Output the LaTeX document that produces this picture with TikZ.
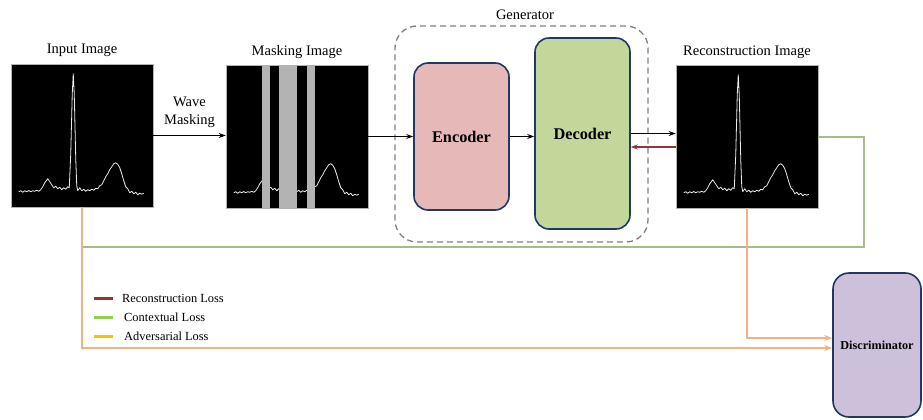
\documentclass[tikz,border=0pt]{standalone}
\usepackage{fontspec}
\setmainfont{Liberation Serif}
\usetikzlibrary{arrows.meta,calc}
\definecolor{frame}{HTML}{1F3864}
\definecolor{encfill}{HTML}{E6B8B7}
\definecolor{decfill}{HTML}{C4D79B}
\definecolor{disfill}{HTML}{CCC0DA}
\definecolor{recred}{HTML}{943634}
\definecolor{ctxgreen}{HTML}{A9BA8C}
\definecolor{legreen}{HTML}{92D050}
\definecolor{advorange}{HTML}{F4B183}
\definecolor{legorange}{HTML}{FFC000}
\definecolor{maskgray}{HTML}{B3B3B3}
\definecolor{dashgray}{HTML}{7F7F7F}
\tikzset{
  imgbox/.style={fill=black, draw=gray!60, line width=0.5pt, minimum width=142pt, minimum height=143pt, inner sep=0pt},
  netbox/.style={draw=frame, line width=1.6pt, rounded corners=14pt, inner sep=0pt},
  lbl/.style={font=\fontsize{14.5}{16}\selectfont, inner sep=0pt},
  leglbl/.style={font=\fontsize{12.4}{14}\selectfont, inner sep=0pt, anchor=west},
  blkarrow/.style={draw=black, line width=1pt, -{Stealth[length=7pt,width=5pt]}},
  redarrow/.style={draw=recred, line width=1.4pt, -{Stealth[length=7pt,width=5pt]}},
  ctxline/.style={draw=ctxgreen, line width=2pt},
  advarrow/.style={draw=advorange, line width=1.4pt, -{Stealth[length=8pt,width=6pt]}},
  legline/.style={line width=3pt},
  wave/.pic={
    \draw[gray!15, line width=0.8pt, line join=round] plot coordinates {
(8,128) (10,127) (12,128.5) (14,127) (16,128) (18,126.8) (20,128) (22,127) (24,127.5) (26,126.5) (28,127.5) (30,126) (32,123) (34,119) (37,115) (39,118) (41,121) (43,124) (45,122.5) (47,125) (49,123.5) (51,126) (53,124) (55,125.5) (57,123) (58.5,124) (60,90) (61.5,30) (62.5,10) (63.5,30) (65,95) (66,122) (67,127) (69,124) (71,127) (73,125.5) (75,127.5) (77,126) (79,127) (81,125.5) (83,126.5) (85,124.5) (87,125) (89,122) (91,121) (93,117) (95,113) (97,110) (99,106) (101,103) (103,100) (105,99) (107,100.5) (109,104) (111,110) (113,117) (115,123) (117,125) (119,129) (121,127.5) (123,130) (125,128.5) (127,131) (129,129.5) (131,130.5) (133,129.5)};
  }
}
\begin{document}
\begin{tikzpicture}[x=1pt,y=-1pt]
\useasboundingbox (0,0) rectangle (923,420);

% images
\node[imgbox] (inp) at (82,135.5) {};
\pic at (inp.north west) {wave};
\node[lbl] (inplbl) at (82,50) {Input Image};

\node[imgbox] (mask) at (297,136.5) {};
\pic at (mask.north west) {wave};
\fill[maskgray] ([xshift=36pt]mask.north west) rectangle ([xshift=44pt]mask.south west);
\fill[maskgray] ([xshift=53pt]mask.north west) rectangle ([xshift=71pt]mask.south west);
\fill[maskgray] ([xshift=81pt]mask.north west) rectangle ([xshift=89pt]mask.south west);
\node[lbl] (masklbl) at (297,52) {Masking Image};

\node[imgbox] (rec) at (747,136.5) {};
\pic at (rec.north west) {wave};
\node[lbl] (reclbl) at (747,52) {Reconstruction Image};

% generator
\node[draw=dashgray, line width=1.3pt, dash pattern=on 6pt off 4pt, rounded corners=22pt, minimum width=253pt, minimum height=216pt, inner sep=0pt] (gen) at (521.5,134) {};
\node[lbl] (genlbl) at (525,15) {Generator};

\node[netbox, fill=encfill, minimum width=95pt, minimum height=147pt, font=\fontsize{16.3}{18}\selectfont\bfseries] (enc) at (461.5,136.5) {Encoder};
\node[netbox, fill=decfill, minimum width=95pt, minimum height=191pt, font=\fontsize{16.3}{18}\selectfont\bfseries] (dec) at (582.5,133.5) {Decoder};
\node[netbox, fill=disfill, minimum width=88pt, minimum height=144pt, rounded corners=16pt, font=\fontsize{12.2}{14}\selectfont\bfseries] (dis) at (877,345) {Discriminator};

% main flow
\draw[blkarrow] (inp.east) -- (inp.east -| mask.west) node[midway, above=7pt, lbl, align=center] (wmlbl) {Wave\\[2pt]Masking};
\draw[blkarrow] (mask.east) -- (enc.west);
\draw[blkarrow] (enc.east) -- (enc.east -| dec.west);
\draw[blkarrow] (dec.east) -- (dec.east -| rec.west);
\draw[redarrow] ([yshift=-10.5pt]rec.west) -- ([yshift=-10.5pt]rec.west -| dec.east);

% contextual loss
\coordinate (gright) at (864,247);
\coordinate (gleft) at (82,247);
\draw[ctxline] (rec.east) -| (gright) -- (gleft);

% adversarial loss
\coordinate (oinp) at (82,348);
\coordinate (orec) at (747,338);
\draw[advarrow] (inp.south) -- (oinp) -- (oinp -| dis.west);
\draw[advarrow] (rec.south) -- (orec) -- (orec -| dis.west);

% legend
\coordinate (l1a) at (94,298); \coordinate (l1b) at (113,298);
\coordinate (l2a) at (94,317); \coordinate (l2b) at (113,317);
\coordinate (l3a) at (94,336); \coordinate (l3b) at (113,336);
\draw[legline, recred] (l1a) -- (l1b);
\draw[legline, legreen] (l2a) -- (l2b);
\draw[legline, legorange] (l3a) -- (l3b);
\node[leglbl] (leg1) at (122,298) {Reconstruction Loss};
\node[leglbl] (leg2) at (124,317) {Contextual Loss};
\node[leglbl] (leg3) at (124,336) {Adversarial Loss};
\end{tikzpicture}
\end{document}
